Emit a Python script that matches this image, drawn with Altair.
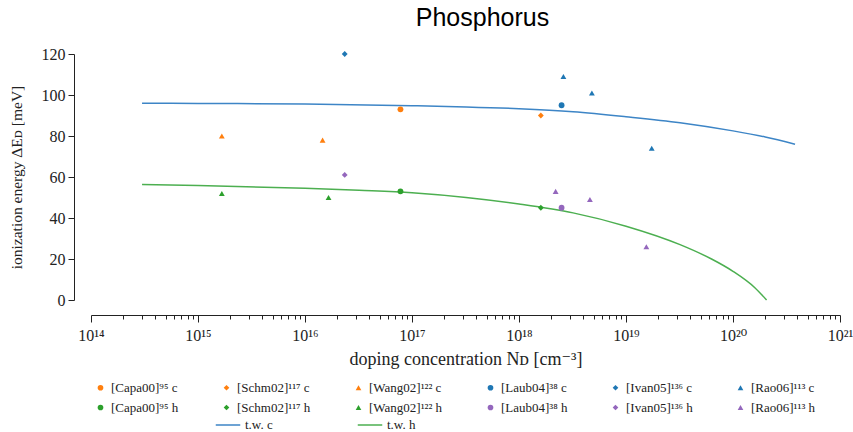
import altair as alt
import pandas as pd

# ---------------- data ----------------
pt_names = [
    "[Capa00]⁹⁵ c", "[Schm02]¹¹⁷ c", "[Wang02]¹²² c", "[Laub04]³⁸ c", "[Ivan05]¹³⁶ c", "[Rao06]¹¹³ c",
    "[Capa00]⁹⁵ h", "[Schm02]¹¹⁷ h", "[Wang02]¹²² h", "[Laub04]³⁸ h", "[Ivan05]¹³⁶ h", "[Rao06]¹¹³ h",
]
pt_colors = [
    "#ff7f0e", "#ff7f0e", "#ff7f0e", "#1f77b4", "#1f77b4", "#1f77b4",
    "#2ca02c", "#2ca02c", "#2ca02c", "#9467bd", "#9467bd", "#9467bd",
]
pt_shapes = [
    "circle", "diamond", "triangle-up", "circle", "diamond", "triangle-up",
    "circle", "diamond", "triangle-up", "circle", "diamond", "triangle-up",
]
line_names = ["t.w.  c", "t.w.  h"]
line_colors = ["#3d85c6", "#4caf50"]

# scatter points: (series, N_D, Delta E)
pt_series = [
    "[Capa00]⁹⁵ c", "[Capa00]⁹⁵ h",
    "[Schm02]¹¹⁷ c", "[Schm02]¹¹⁷ h",
    "[Wang02]¹²² c", "[Wang02]¹²² c", "[Wang02]¹²² h", "[Wang02]¹²² h",
    "[Laub04]³⁸ c", "[Laub04]³⁸ h",
    "[Ivan05]¹³⁶ c", "[Ivan05]¹³⁶ h",
    "[Rao06]¹¹³ c", "[Rao06]¹¹³ c", "[Rao06]¹¹³ c",
    "[Rao06]¹¹³ h", "[Rao06]¹¹³ h", "[Rao06]¹¹³ h",
]
pt_N = [
    7.8e16, 7.8e16,
    1.6e18, 1.6e18,
    1.67e15, 1.46e16, 1.67e15, 1.66e16,
    2.5e18, 2.5e18,
    2.35e16, 2.35e16,
    2.6e18, 4.8e18, 1.74e19,
    2.2e18, 4.6e18, 1.55e19,
]
pt_E = [
    93, 53,
    90, 45,
    80, 78, 52, 50,
    95, 45,
    120, 61,
    109, 101, 74,
    53, 49, 26,
]

# this work (t.w.) curves
tw_c_N = [3e14, 1e15, 1e16, 1e17, 3.2e17, 1e18, 3.2e18, 1e19, 3.2e19, 1e20, 2e20, 3.8e20]
tw_c_E = [96.0, 95.9, 95.6, 94.8, 94.2, 93.3, 91.8, 89.4, 86.5, 82.5, 79.5, 76.0]
tw_h_N = [3e14, 1e15, 1e16, 3.2e16, 1e17, 3.2e17, 1e18, 3.2e18, 1e19, 3.2e19, 6.3e19, 1e20, 1.6e20, 2.06e20]
tw_h_E = [56.4, 55.9, 54.5, 53.5, 52.3, 50.0, 46.8, 42.5, 36.0, 27.0, 20.0, 14.0, 6.0, 0.0]

x_tick_labels = ["10¹⁴", "10¹⁵", "10¹⁶", "10¹⁷", "10¹⁸", "10¹⁹", "10²⁰", "10²¹"]
y_ticks = [0, 20, 40, 60, 80, 100, 120]

# ---------------- tables ----------------
points = pd.DataFrame({"series": pt_series, "N": pt_N, "E": pt_E})
curves = pd.DataFrame({
    "curve": [line_names[0]] * len(tw_c_N) + [line_names[1]] * len(tw_h_N),
    "N": tw_c_N + tw_h_N,
    "E": tw_c_E + tw_h_E,
})

major_vals = [10.0 ** k for k in range(14, 22)]
minor_vals = [m * 10.0 ** k for k in range(14, 21) for m in range(2, 10)]
x_vals = sorted(major_vals + minor_vals)

is_major = "abs(log(datum.value)/LN10 - round(log(datum.value)/LN10)) < 0.001"
label_expr = (
    "(" + is_major + ") ? " + str(x_tick_labels) + "[round(log(datum.value)/LN10) - 14] : ''"
)

SERIF = "Liberation Serif, DejaVu Serif, serif"
INK = "#222222"

x_enc = alt.X(
    "N:Q",
    scale=alt.Scale(type="log", domain=[1e14, 1e21], nice=False),
    axis=alt.Axis(
        title="doping concentration Nᴅ [cm⁻³]",
        values=x_vals,
        labelExpr=label_expr,
        tickSize=alt.condition(is_major, alt.value(7), alt.value(4)),
        offset=15,
        grid=False,
        domainColor=INK,
        tickColor=INK,
        labelFont=SERIF,
        labelFontSize=16,
        labelColor=INK,
        labelPadding=5,
        labelOverlap=False,
        labelFlush=False,
        titleFont=SERIF,
        titleFontSize=18,
        titleFontWeight="normal",
        titleColor=INK,
        titlePadding=7,
    ),
)
y_enc = alt.Y(
    "E:Q",
    scale=alt.Scale(domain=[0, 120], nice=False),
    axis=alt.Axis(
        title="ionization energy ΔEᴅ [meV]",
        values=y_ticks,
        offset=17,
        grid=False,
        tickSize=6,
        domainColor=INK,
        tickColor=INK,
        labelFont=SERIF,
        labelFontSize=16,
        labelColor=INK,
        labelPadding=3,
        titleFont=SERIF,
        titleFontSize=15.5,
        titleFontWeight="normal",
        titleColor=INK,
        titlePadding=17,
    ),
)

pt_legend = alt.Legend(
    title=None,
    orient="none",
    legendX=3,
    legendY=327,
    direction="horizontal",
    columns=6,
    columnPadding=41,
    rowPadding=6,
    symbolSize=32,
    labelFont=SERIF,
    labelFontSize=13,
    labelColor=INK,
    labelOffset=4,
)
line_legend = alt.Legend(
    title=None,
    orient="none",
    legendX=124,
    legendY=358,
    direction="horizontal",
    columns=2,
    columnPadding=78,
    symbolType="stroke",
    symbolSize=600,
    symbolStrokeWidth=1.5,
    labelFont=SERIF,
    labelFontSize=13,
    labelColor=INK,
    labelOffset=4,
)

lines = alt.Chart(curves).mark_line(interpolate="monotone", strokeWidth=1.5).encode(
    x=x_enc,
    y=y_enc,
    stroke=alt.Stroke("curve:N", scale=alt.Scale(domain=line_names, range=line_colors),
                      legend=line_legend, sort=line_names),
)

pts = alt.Chart(points).mark_point(filled=True, size=34, opacity=1).encode(
    x=x_enc,
    y=y_enc,
    color=alt.Color("series:N", scale=alt.Scale(domain=pt_names, range=pt_colors),
                    legend=pt_legend, sort=pt_names),
    shape=alt.Shape("series:N", scale=alt.Scale(domain=pt_names, range=pt_shapes),
                    legend=pt_legend, sort=pt_names),
)

chart = alt.layer(lines, pts).properties(
    width=749,
    height=246,
    title=alt.TitleParams(
        "Phosphorus",
        font="Liberation Sans",
        fontSize=25,
        fontWeight="normal",
        color="black",
        anchor="middle",
        dx=17,
        offset=15,
    ),
    autosize=alt.AutoSizeParams(type="none"),
    padding={"left": 91, "top": 54, "right": 13, "bottom": 132},
).configure_view(stroke=None)

chart.save("out.html", embed_options={"renderer": "svg", "actions": False})
